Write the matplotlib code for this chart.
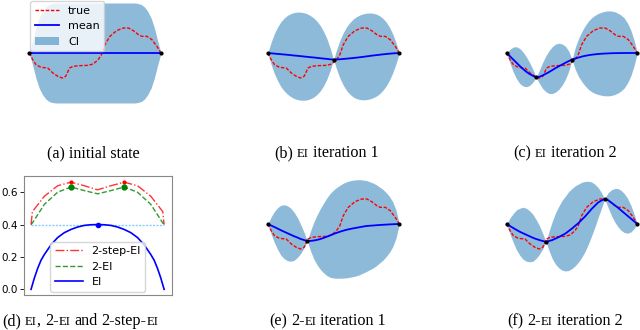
import numpy as np
import matplotlib
matplotlib.use("Agg")
import matplotlib.pyplot as plt

W, H = 640, 330

# true function (shared by all GP panels)
true_x = [0, 0.026, 0.051, 0.089, 0.14, 0.179, 0.217, 0.25, 0.276, 0.306, 0.332, 0.383, 0.446, 0.485,
          0.523, 0.548, 0.574, 0.612, 0.663, 0.714, 0.753, 0.79, 0.829, 0.855, 0.893, 0.931, 0.969, 1]
true_y = [0, -0.133, -0.233, -0.287, -0.3, -0.4, -0.467, -0.5, -0.467, -0.3, -0.267, -0.253, -0.247, -0.22,
          -0.133, -0.033, 0.167, 0.333, 0.447, 0.5, 0.5, 0.447, 0.367, 0.333, 0.333, 0.267, 0.133, 0]

# evaluation grid of the GP panels (step 0.025)
grid_x = [0, .025, .05, .075, .1, .125, .15, .175, .2, .225, .25, .275, .3, .325, .35, .375, .4, .425,
          .45, .475, .5, .525, .55, .575, .6, .625, .65, .675, .7, .725, .75, .775, .8, .825, .85, .875,
          .9, .925, .95, .975, 1]

# (a) initial state
a_mean = [0.0] * len(grid_x)
a_ci = [0, .24, .5, .7, .83, .92, .97, .99, 1] + [1] * 23 + [1, .99, .97, .92, .83, .7, .5, .24, 0]
a_obs_x = [0, 1]
a_obs_y = [0, 0]

# (b) EI iteration 1
b_mean = [0, -.006, -.012, -.018, -.024, -.03, -.036, -.043, -.05, -.056, -.063, -.07, -.077, -.084,
          -.09, -.097, -.105, -.112, -.118, -.126, -.133,
          -.129, -.125, -.119, -.113, -.107, -.1, -.093, -.085, -.077, -.068, -.059, -.05, -.043, -.035,
          -.027, -.02, -.014, -.008, -.004, 0]
b_ci = [0, .22, .4, .54, .65, .73, .79, .83, .86, .875, .88, .875, .86, .83, .79, .73, .65, .54, .4, .22, 0,
        .21, .39, .53, .64, .72, .78, .82, .845, .86, .865, .86, .845, .82, .78, .72, .64, .53, .39, .21, 0]
b_obs_x = [0, 0.5, 1]
b_obs_y = [0, -0.133, 0]

# (c) EI iteration 2
c_mean = [0, -.065, -.13, -.195, -.26, -.32, -.375, -.42, -.455, -.487,
          -.475, -.45, -.415, -.38, -.34, -.3, -.265, -.23, -.195, -.162, -.133,
          -.11, -.09, -.072, -.057, -.045, -.035, -.027, -.02, -.015, -.011, -.008, -.005, -.003, -.002,
          -.001, 0, 0, 0, 0, 0]
c_ci = [0, .14, .25, .32, .35, .34, .3, .23, .13, 0,
        .13, .26, .36, .43, .47, .48, .46, .41, .33, .2, 0,
        .22, .38, .5, .6, .68, .74, .78, .81, .83, .845, .85, .845, .83, .8, .76, .7, .6, .46, .26, 0]
c_obs_x = [0, 0.225, 0.5, 1]
c_obs_y = [0, -0.487, -0.133, 0]

# (e) 2-EI iteration 1
e_mean = [0, -.03, -.06, -.092, -.125, -.155, -.185, -.215, -.245, -.27, -.3, -.32, -.34,
          -.338, -.33, -.318, -.3, -.278, -.253, -.227, -.2, -.176, -.153, -.133, -.115, -.1, -.087,
          -.075, -.063, -.051, -.04, -.035, -.03, -.025, -.02, -.016, -.012, -.008, -.005, -.002, 0]
e_ci = [0, .17, .31, .42, .5, .54, .55, .53, .48, .4, .29, .16, 0,
        .2, .37, .5, .61, .7, .78, .84, .88, .91, .93, .95, .96, .965, .965, .96, .95, .93, .91, .88,
        .85, .81, .76, .71, .64, .56, .45, .28, 0]
e_obs_x = [0, 0.3, 1]
e_obs_y = [0, -0.34, 0]

# (f) 2-EI iteration 2
f_mean = [0, -.04, -.08, -.118, -.155, -.185, -.215, -.245, -.275, -.3, -.32, -.34, -.353,
          -.34, -.32, -.29, -.26, -.225, -.19, -.14, -.09, -.035, .02, .085, .15, .225, .3, .365, .43,
          .47, .5,
          .48, .43, .38, .33, .275, .22, .165, .11, .055, 0]
f_ci = [0, .16, .29, .4, .47, .52, .53, .51, .47, .39, .29, .16, 0,
        .2, .38, .52, .62, .7, .75, .79, .8, .8, .78, .75, .7, .63, .54, .43, .3, .16, 0,
        .14, .25, .33, .38, .4, .39, .35, .27, .15, 0]
f_obs_x = [0, 0.3, 0.75, 1]
f_obs_y = [0, -0.353, 0.5, 0]

# (d) acquisition functions
d_x = [0, .01, .1, .2, .3, .4, .5, .6, .7, .8, .9, .99, 1]
two_step_ei = [.40, .48, .575, .64, .662, .64, .615, .64, .662, .64, .575, .48, .40]
two_ei = [.40, .41, .525, .60, .632, .61, .59, .61, .632, .60, .525, .41, .40]
ei_x = [0, .025, .05, .075, .1, .15, .2, .25, .3, .35, .4, .45, .5, .55, .6, .65, .7, .75, .8, .85, .9,
        .925, .95, .975, 1]
ei_y = [0, .07, .13, .18, .215, .275, .32, .35, .37, .385, .395, .399, .4, .399, .395, .385, .37, .35,
        .32, .275, .215, .18, .13, .07, 0]
ei_level = 0.4
d_yticks = [0.0, 0.2, 0.4, 0.6]

fig = plt.figure(figsize=(W / 100, H / 100), dpi=100)


def px_axes(x0, x1, ytop, ybot):
    return fig.add_axes([x0 / W, 1 - ybot / H, (x1 - x0) / W, (ybot - ytop) / H])


def gp_panel(ax, mean, ci, obs_x, obs_y, ylim, legend=False):
    x = np.array(grid_x)
    mean = np.array(mean)
    ci = np.array(ci)
    ax.plot(true_x, true_y, color='r', ls=(0, (2.5, 1.2)), lw=1, label='true')
    ax.plot(x, mean, color='b', lw=1.3, label='mean')
    ax.fill_between(x, mean - ci, mean + ci, color='tab:blue', alpha=0.5, lw=0, label='CI')
    ax.plot(obs_x, obs_y, 'k.', ms=4)
    ax.set_xlim(0, 1)
    ax.set_ylim(*ylim)
    ax.axis('off')
    for art in ax.get_children():
        art.set_clip_on(False)
    if legend:
        ax.legend(loc='upper left', fontsize=8, borderaxespad=0.1, handlelength=2.2)


top = (-1.06, 1.06)
bot = (-1.14, 1.06)
gp_panel(px_axes(29.3, 161, 0, 106), a_mean, a_ci, a_obs_x, a_obs_y, top, legend=True)
gp_panel(px_axes(267.8, 399.3, 0, 106), b_mean, b_ci, b_obs_x, b_obs_y, top)
gp_panel(px_axes(506.7, 637.3, 0, 106), c_mean, c_ci, c_obs_x, c_obs_y, top)
gp_panel(px_axes(267.8, 399.3, 171, 281), e_mean, e_ci, e_obs_x, e_obs_y, bot)
gp_panel(px_axes(506.7, 637.3, 171, 281), f_mean, f_ci, f_obs_x, f_obs_y, bot)

# panel (d)
ax = px_axes(24, 171.7, 175.7, 295)
ax.hlines(ei_level, 0, 1, color='lightskyblue', lw=1, ls=(0, (1.5, 1)))
ax.plot(d_x, two_step_ei, color='r', ls='-.', lw=1, alpha=0.8, label='2-step-EI')
ax.plot(d_x, two_ei, color='g', ls='--', lw=1, alpha=0.8, label='2-EI')
ax.plot(ei_x, ei_y, color='b', lw=1.2, label='EI')
ax.plot([d_x[4], d_x[8]], [two_step_ei[4], two_step_ei[8]], 'r.', ms=4)
ax.plot([d_x[4], d_x[8]], [two_ei[4], two_ei[8]], 'go', ms=3.5)
ax.plot([ei_x[12]], [ei_y[12]], 'bo', ms=3)
ax.set_xlim(-0.053, 1.057)
ax.set_ylim(-0.035, 0.702)
ax.set_xticks([])
ax.set_yticks(d_yticks)
ax.tick_params(labelsize=7.5, length=3, width=0.6, pad=1.5)
for s in ax.spines.values():
    s.set_color('#888888')
    s.set_linewidth(0.8)
ax.legend(loc='lower center', fontsize=8, handlelength=2.5, borderaxespad=0.3)

# captions with small-caps "EI"
SERIF = 'Liberation Serif'
FS = 11.6
SC = 9.1
SP = None


def caption(x_left, base_y, parts):
    # pieces are laid out left to right from x_left (pixels)
    fig.canvas.draw()
    r = fig.canvas.get_renderer()
    x = x_left
    for p in parts:
        if p is SP:
            x += FS * 0.25 * 100 / 72
            continue
        s, small = p
        t = fig.text(x / W, 1 - base_y / H, s, fontsize=SC if small else FS, family=SERIF,
                     va='baseline', ha='left')
        x += t.get_window_extent(r).width


caption(47, 157, [("(a) initial state", False)])
caption(274, 157, [("(b)", False), SP, ("EI", True), SP, ("iteration 1", False)])
caption(513, 157, [("(c)", False), SP, ("EI", True), SP, ("iteration 2", False)])
caption(2, 325, [("(d)", False), SP, ("EI", True), (",", False), SP, ("2-", False), ("EI", True), SP,
                 ("and", False), SP, ("2-step-", False), ("EI", True)])
caption(269, 325, [("(e)", False), SP, ("2-", False), ("EI", True), SP, ("iteration 1", False)])
caption(507, 325, [("(f)", False), SP, ("2-", False), ("EI", True), SP, ("iteration 2", False)])

fig.savefig("out.png", dpi=100)
